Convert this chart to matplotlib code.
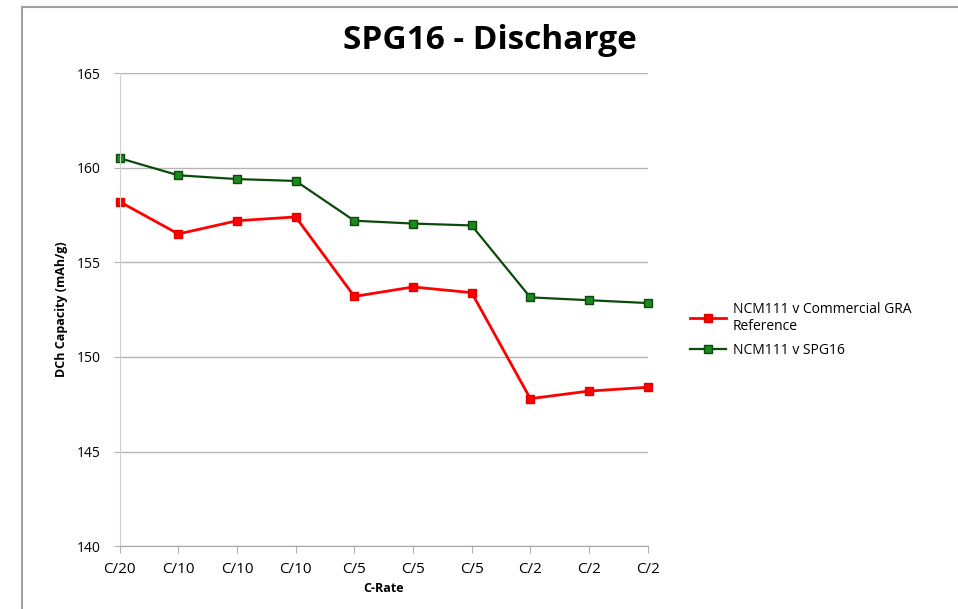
import matplotlib
matplotlib.use("Agg")
from matplotlib import pyplot as plt
from matplotlib.lines import Line2D

plt.rcParams['font.family'] = ['Open Sans', 'DejaVu Sans']

rates = ["C/20", "C/10", "C/10", "C/10", "C/5", "C/5", "C/5", "C/2", "C/2", "C/2"]
ref_gra = [158.2, 156.5, 157.2, 157.4, 153.2, 153.7, 153.4, 147.8, 148.2, 148.4]
spg16 = [160.5, 159.6, 159.4, 159.3, 157.2, 157.05, 156.95, 153.15, 153.0, 152.85]

fig = plt.figure(figsize=(9.58, 6.09), dpi=100)
ax = fig.add_axes([0.125, 0.103, 0.551, 0.777])

x = list(range(len(rates)))
ax.plot(x, ref_gra, color="#ff0000", lw=2, marker="s", ms=6, clip_on=False,
        mfc="#ff0000", mec="#e00000", label="NCM111 v Commercial GRA\nReference")
ax.plot(x, spg16, color="#0a4a0a", lw=1.6, marker="s", ms=6, clip_on=False,
        mfc="#1a8a1a", mec="#0a4a0a", label="NCM111 v SPG16")

ax.set_xlim(0, len(rates) - 1)
ax.set_ylim(140, 165)
ax.set_yticks([140, 145, 150, 155, 160, 165])
ax.set_xticks(x)
ax.set_xticklabels(rates, fontsize=11)
ax.tick_params(axis="y", labelsize=10, length=4, color="#b0b0b0", pad=10)
ax.tick_params(axis="x", length=5, color="#b0b0b0", pad=6)
ax.yaxis.grid(True, color="#b4b4b4", lw=1)
ax.set_axisbelow(True)
for s in ["top", "right"]:
    ax.spines[s].set_visible(False)
ax.spines["left"].set_color("#d0d0d0")
ax.spines["bottom"].set_color("#a6a6a6")

ax.set_xlabel("C-Rate", fontsize=9, fontweight="bold", labelpad=4)
ax.set_ylabel("DCh Capacity (mAh/g)", fontsize=9, fontweight="bold", labelpad=6)
fig.text(0.511, 0.933, "SPG16 - Discharge", ha="center", va="center",
         fontsize=24, fontweight="bold")

leg = ax.legend(loc="upper left", bbox_to_anchor=(1.08, 0.517), frameon=False,
                fontsize=10, handlelength=2.6, labelspacing=0.65, handletextpad=0.5,
                borderpad=0, borderaxespad=0)

# outer chart frame
fig.add_artist(Line2D([0.023, 1.0], [1 - 7 / 609, 1 - 7 / 609],
                      color="#a0a0a0", lw=1.5, transform=fig.transFigure))
fig.add_artist(Line2D([0.023, 0.023], [0.0, 1 - 7 / 609],
                      color="#a0a0a0", lw=1.5, transform=fig.transFigure))

fig.savefig("out.png", dpi=100)
